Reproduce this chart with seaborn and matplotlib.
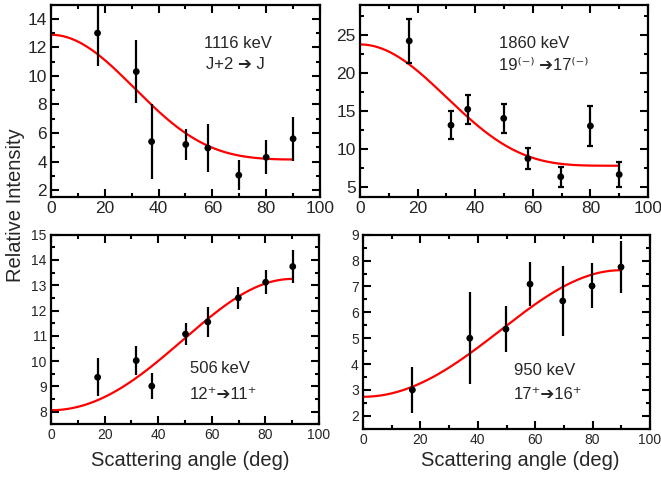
import numpy as np
import pandas as pd
import matplotlib
matplotlib.use("Agg")
import matplotlib.pyplot as plt
import seaborn as sns
from matplotlib.ticker import MultipleLocator

# ---------------- data ----------------
angles_1116 = [17.3, 31.7, 37.4, 50.1, 58.3, 69.8, 80.0, 90.0]
inten_1116 = [13.0, 10.3, 5.4, 5.2, 4.95, 3.05, 4.3, 5.6]
err_1116 = [2.3, 2.2, 2.6, 1.1, 1.65, 1.05, 1.2, 1.55]
fit_1116 = [6.09, 5.13, 1.66]          # A0, A2, A4 (Legendre fit)

angles_1860 = [17.1, 31.6, 37.4, 49.9, 58.3, 69.7, 80.0, 90.0]
inten_1860 = [24.2, 13.1, 15.2, 14.0, 8.7, 6.3, 13.0, 6.6]
err_1860 = [2.9, 1.85, 1.9, 1.9, 1.35, 1.3, 2.6, 1.6]
fit_1860 = [10.98, 9.15, 3.61]

angles_506 = [17.4, 31.8, 37.6, 50.2, 58.5, 69.9, 80.1, 90.2]
inten_506 = [9.36, 10.02, 9.01, 11.07, 11.55, 12.5, 13.12, 13.74]
err_506 = [0.75, 0.57, 0.5, 0.45, 0.58, 0.45, 0.47, 0.65]
fit_506 = [11.41, -3.54, 0.187]

angles_950 = [17.2, 37.2, 49.8, 58.2, 69.6, 79.8, 89.9]
inten_950 = [3.0, 5.0, 5.35, 7.09, 6.44, 7.02, 7.75]
err_950 = [0.88, 1.77, 0.88, 0.86, 1.35, 0.87, 1.0]
fit_950 = [5.93, -3.31, 0.114]

labels_energy = ["1116 keV", "1860 keV", "506\u2009keV", "950 keV"]
labels_trans = ["J+2 \u2794 J", "19\u207d\u207b\u207e \u279417\u207d\u207b\u207e",
                "12\u207a\u279411\u207a", "17\u207a\u279416\u207a"]
x_ticks = [0, 20, 40, 60, 80, 100]

# ---------------- style ----------------
sns.set_style("ticks")
plt.rcParams["font.family"] = ["Liberation Sans", "DejaVu Sans"]

W, H = 661, 478
fig = plt.figure(figsize=(W / 100, H / 100), dpi=100)


def rect(l, r, t, b):
    return [l / W, 1 - b / H, (r - l) / W, (b - t) / H]


axes = [
    fig.add_axes(rect(51, 320, 4.5, 197.3)),
    fig.add_axes(rect(360, 648, 4.5, 197.3)),
    fig.add_axes(rect(51, 319, 234.7, 424.3)),
    fig.add_axes(rect(363, 650, 234.7, 428.7)),
]

datasets = [
    (angles_1116, inten_1116, err_1116, fit_1116),
    (angles_1860, inten_1860, err_1860, fit_1860),
    (angles_506, inten_506, err_506, fit_506),
    (angles_950, inten_950, err_950, fit_950),
]
ylims = [(1.5, 15), (3.6, 29), (7.5, 15), (1.5, 9)]
ymajor = [2, 5, 1, 1]
yminor = [1, 2.5, 0.5, 0.5]
ticksize = [12.5, 12.5, 10, 10]
caps = [0, 2, 0, 0]
text_pos = [((57, 12.3), (57.6, 10.8)),
            ((48.3, 23.9), (48.3, 20.9)),
            ((51.9, 9.7), (51.9, 8.68)),
            ((52.6, 3.76), (52.6, 2.84))]

theta = np.linspace(0, 90, 181)

for i, ax in enumerate(axes):
    ang, inten, err, fit = datasets[i]
    c = np.cos(np.radians(theta))
    p2 = (3 * c ** 2 - 1) / 2
    p4 = (35 * c ** 4 - 30 * c ** 2 + 3) / 8
    curve = fit[0] + fit[1] * p2 + fit[2] * p4
    df_fit = pd.DataFrame({"angle": theta, "W": curve})
    df = pd.DataFrame({"angle": ang, "I": inten, "e": err})

    sns.lineplot(data=df_fit, x="angle", y="W", ax=ax, color="#ff0000",
                 lw=1.6, zorder=2)
    ax.errorbar(df["angle"], df["I"], yerr=df["e"], fmt="none",
                ecolor="black", elinewidth=1.6, capsize=caps[i],
                capthick=1.6, zorder=3)
    sns.scatterplot(data=df, x="angle", y="I", ax=ax, color="black",
                    s=24, edgecolor="none", zorder=4)

    ax.set_xlim(0, 100)
    ax.set_ylim(*ylims[i])
    ax.set_xticks(x_ticks)
    ax.xaxis.set_minor_locator(MultipleLocator(10))
    ax.yaxis.set_major_locator(MultipleLocator(ymajor[i]))
    ax.yaxis.set_minor_locator(MultipleLocator(yminor[i]))
    ax.tick_params(which="both", direction="in", top=True, right=True,
                   width=1.5, color="black", labelsize=ticksize[i], pad=3)
    ax.tick_params(which="major", length=5.5)
    ax.tick_params(which="minor", length=3)
    for sp in ax.spines.values():
        sp.set_visible(True)
        sp.set_linewidth(1.6)
        sp.set_color("black")
    ax.set_xlabel("")
    ax.set_ylabel("")

    (x1, y1), (x2, y2) = text_pos[i]
    ax.text(x1, y1, labels_energy[i], fontsize=12, ha="left", va="center")
    ax.text(x2, y2, labels_trans[i], fontsize=12, ha="left", va="center")

fig.text(16 / W, 1 - 205 / H, "Relative Intensity", rotation=90,
         ha="center", va="center", fontsize=14.5)
fig.text(190 / W, 1 - 460 / H, "Scattering angle (deg)",
         ha="center", va="center", fontsize=14.5)
fig.text(520 / W, 1 - 460 / H, "Scattering angle (deg)",
         ha="center", va="center", fontsize=14.5)

fig.savefig("out.png", dpi=100)
